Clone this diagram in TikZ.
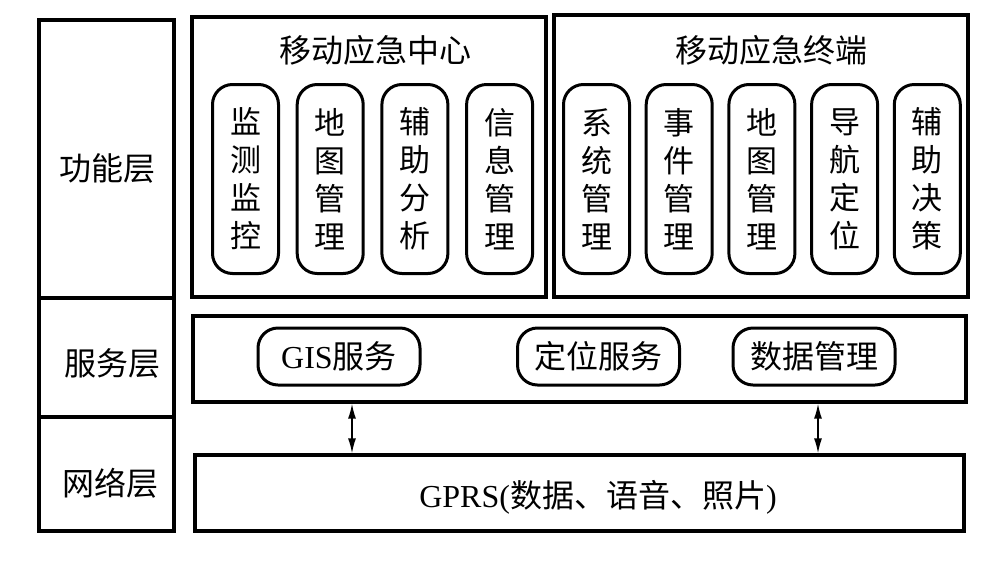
\documentclass[tikz,border=0pt]{standalone}
\usepackage{fontspec}
\setmainfont{Liberation Serif}
\newfontfamily\cjk{Noto Sans CJK SC}
\usetikzlibrary{positioning}
\usetikzlibrary{arrows.meta}
\tikzset{x=1pt, y=-1pt, % Units follow the pixels of the layout
  every node/.style={           align=center,
    font=\cjk\fontsize{32}{38}\selectfont},
         layer/.style={ % Sets the properties for each frame
           draw, line width=3.2pt, inner sep=0pt},
         pill/.style={ % Rounded function boxes
           draw, line width=3pt, rounded corners=20pt, inner sep=0pt,
           minimum width=66pt, minimum height=189pt,
           font=\cjk\fontsize{31}{38}\selectfont},
         svcpill/.style={
           draw, line width=3pt, rounded corners=20pt, inner sep=0pt,
           minimum width=162pt, minimum height=57pt},
         link/.style={ % Two-way links between layers
           line width=1.6pt,
           {Latex[length=15pt,width=8pt]}-{Latex[length=15pt,width=8pt]}}}

\begin{document}
\begin{tikzpicture}
  \useasboundingbox (0,0) rectangle (1000,571);

  % layer names
  \node [layer, minimum width=135pt, minimum height=278pt] (lfun) at (106.5,159) {};
  \node [layer, minimum width=135pt, minimum height=119pt] (lsvc) at (106.5,357.5) {};
  \node [layer, minimum width=135pt, minimum height=114pt] (lnet) at (106.5,474) {};
  \node (tfun) at (107,168) {功能层};
  \node (tsvc) at (112,363) {服务层};
  \node (tnet) at (110,483) {网络层};

  % function layer
  \node [layer, minimum width=354pt, minimum height=280pt] (center) at (369,157) {};
  \node (tcenter) at (375,50) {移动应急中心};
  \node [pill] (pmon) at (245.5,179) {监\\测\\监\\控};
  \node [pill, right=15.7pt of pmon] (pmap) {地\\图\\管\\理};
  \node [pill, right=15.7pt of pmap] (pana) {辅\\助\\分\\析};
  \node [pill, right=15.7pt of pana] (pinfo) {信\\息\\管\\理};

  \node [layer, minimum width=414pt, minimum height=282pt] (term) at (761,156) {};
  \node (tterm) at (771,50) {移动应急终端};
  \node [pill] (psys) at (596.5,179) {系\\统\\管\\理};
  \node [pill, right=13.7pt of psys] (pevt) {事\\件\\管\\理};
  \node [pill, right=13.7pt of pevt] (ptmap) {地\\图\\管\\理};
  \node [pill, right=13.7pt of ptmap] (pnav) {导\\航\\定\\位};
  \node [pill, right=13.7pt of pnav] (pdec) {辅\\助\\决\\策};

  % service layer
  \node [layer, minimum width=773pt, minimum height=86pt] (svc) at (579.5,359) {};
  \node [svcpill] (sgis) at (339,356.5) {{\rmfamily GIS}服务};
  \node [svcpill] (spos) at (598.5,356.5) {定位服务};
  \node [svcpill] (sdata) at (814,356.5) {数据管理};

  % network layer
  \node [layer, minimum width=769pt, minimum height=76pt] (net) at (579.5,493) {};
  \node (tgprs) at (598,497) {{\rmfamily GPRS(}数据、语音、照片{\rmfamily )}};

  \coordinate (arrl) at (352,0);
  \coordinate (arrr) at (818,0);
  \draw [link] (svc.south -| arrl) -- (net.north -| arrl);
  \draw [link] (svc.south -| arrr) -- (net.north -| arrr);
\end{tikzpicture}
\end{document}
